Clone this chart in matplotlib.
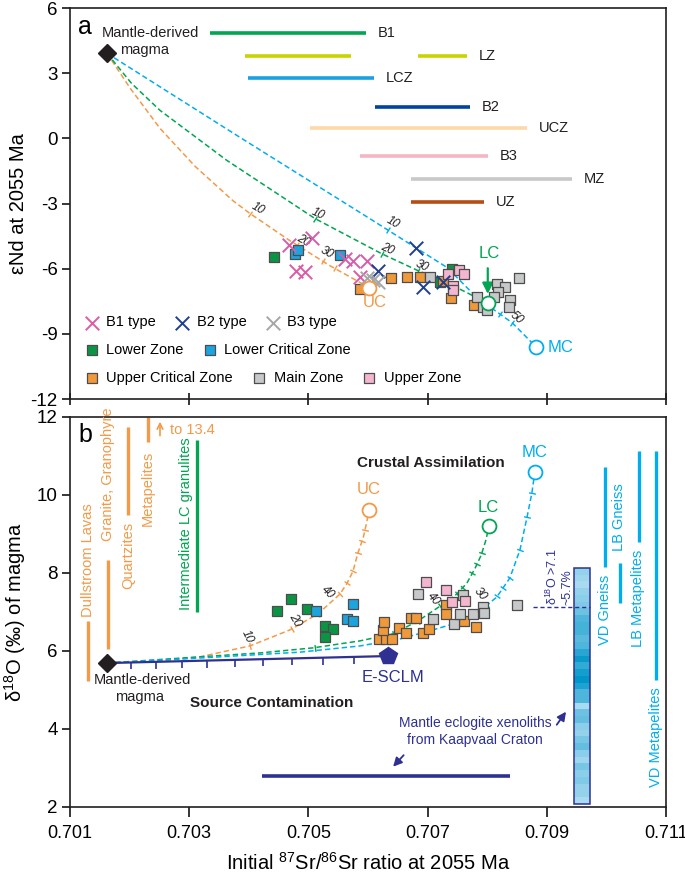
import matplotlib
matplotlib.use("Agg")
import matplotlib.pyplot as plt
import numpy as np
from matplotlib.patches import Rectangle
from matplotlib.legend import Legend
from matplotlib.colors import LinearSegmentedColormap

plt.rcParams["font.family"] = ["Liberation Sans", "DejaVu Sans"]
plt.rcParams["mathtext.fontset"] = "custom"
plt.rcParams["mathtext.rm"] = "Liberation Sans"
plt.rcParams["mathtext.default"] = "regular"
plt.rcParams["axes.unicode_minus"] = False

ORANGE = "#F39A48"
GREEN = "#00A651"
CYAN = "#00AEEF"
NAVY = "#2E3192"
INK = "#231F20"

# ---------------- panel a : eNd vs initial Sr ----------------
mantle_a = (0.70162, 3.92)

# published ranges (horizontal bars)
range_names = ["B1", "LZ", "LZ", "LCZ", "B2", "UCZ", "B3", "MZ", "UZ"]
range_lo = [0.70335, 0.70394, 0.70684, 0.70399, 0.70612, 0.70503, 0.70587, 0.70672, 0.70672]
range_hi = [0.70597, 0.70571, 0.70766, 0.70610, 0.70771, 0.70867, 0.70801, 0.70942, 0.70795]
range_nd = [4.85, 3.78, 3.78, 2.77, 1.43, 0.46, -0.83, -1.89, -2.91]
range_colors = ["#00A651", "#C8D400", "#C8D400", "#1BA1E2", "#00449E",
                "#FDD9A9", "#F4B6C4", "#C8C8C8", "#B84C13"]

# mixing curves, mantle -> crust end-members, with their % ticks
a_uc_sr = [0.70162, 0.70201, 0.70251, 0.70310, 0.70373, 0.70402, 0.70469, 0.70536, 0.70602]
a_uc_nd = [3.92, 2.31, 0.46, -1.29, -2.86, -3.46, -4.71, -5.86, -6.87]
a_uc_ticks = [0.70402, 0.70481, 0.70524, 0.70544]
a_lc_sr = [0.70162, 0.70203, 0.70251, 0.70363, 0.70511, 0.70623, 0.70684, 0.70726, 0.70783, 0.70801]
a_lc_nd = [3.92, 2.54, 1.29, -1.01, -3.69, -5.31, -6.09, -6.55, -7.34, -7.57]
a_lc_ticks = [0.70511, 0.70623, 0.70684]
a_mc_sr = [0.70162, 0.70385, 0.70608, 0.70733, 0.70783, 0.70842, 0.70882]
a_mc_nd = [3.92, 0.05, -3.78, -5.95, -7.34, -8.49, -9.60]
a_mc_ticks = [0.70634, 0.70822, 0.70842]

# samples
b1_sr = [0.70468, 0.70506, 0.70480, 0.70494, 0.70561, 0.70575, 0.70598, 0.70587]
b1_nd = [-4.90, -4.58, -6.09, -6.17, -5.55, -5.63, -5.63, -6.40]
b2_sr = [0.70617, 0.70681, 0.70693, 0.70726]
b2_nd = [-6.09, -5.03, -6.83, -6.60]
b3_sr = [0.70598, 0.70608, 0.70617]
b3_nd = [-6.41, -6.51, -6.60]
a_lz_sr = [0.70442, 0.70741, 0.70721]
a_lz_nd = [-5.44, -6.00, -6.60]
a_lcz_sr = [0.70478, 0.70483, 0.70553]
a_lcz_nd = [-5.31, -5.12, -5.35]
a_ucz_sr = [0.70587, 0.70639, 0.70665, 0.70687, 0.70739, 0.70778, 0.70726]
a_ucz_nd = [-6.92, -6.41, -6.37, -6.37, -7.34, -7.66, -6.55]
a_mz_sr = [0.70704, 0.70783, 0.70793, 0.70800, 0.70817, 0.70830, 0.70818, 0.70853, 0.70838, 0.70837, 0.70811]
a_mz_nd = [-6.37, -7.29, -7.75, -7.89, -6.69, -6.83, -7.06, -6.41, -7.43, -7.75, -7.29]
a_uz_sr = [0.70734, 0.70753, 0.70761, 0.70743, 0.70743]
a_uz_nd = [-6.23, -6.04, -6.23, -6.78, -6.97]

# ---------------- panel b : d18O vs initial Sr ----------------
mantle_b = (0.70162, 5.69)
escl_m = (0.70634, 5.87)
source_ticks_sr = [0.70202, 0.70244, 0.70288, 0.70330, 0.70377, 0.70424, 0.70473, 0.70524, 0.70577]

b_uc_sr = [0.70162, 0.70251, 0.70318, 0.70402, 0.70469, 0.70516, 0.70553, 0.70565,
           0.70575, 0.70583, 0.70592, 0.70598, 0.70602]
b_uc_o = [5.69, 5.74, 5.85, 6.13, 6.54, 6.95, 7.46, 7.74, 8.05, 8.51, 8.90, 9.31, 9.62]
b_uc_ticks = [0.70402, 0.70473, 0.70516, 0.70553, 0.70565, 0.70575, 0.70583, 0.70590, 0.70595]
b_lc_sr = [0.70162, 0.70318, 0.70419, 0.70508, 0.70587, 0.70642, 0.70684, 0.70721,
           0.70749, 0.70766, 0.70780, 0.70790, 0.70798, 0.70803]
b_lc_o = [5.69, 5.85, 5.95, 6.08, 6.26, 6.44, 6.77, 7.15, 7.46, 7.74, 8.13, 8.46, 8.85, 9.21]
b_lc_ticks = [0.70511, 0.70642, 0.70684, 0.70721, 0.70749, 0.70759, 0.70775, 0.70783, 0.70791]
b_mc_sr = [0.70162, 0.70318, 0.70486, 0.70587, 0.70654, 0.70709, 0.70749, 0.70783,
           0.70816, 0.70838, 0.70855, 0.70867, 0.70875, 0.70880]
b_mc_o = [5.69, 5.82, 5.97, 6.13, 6.31, 6.54, 6.72, 6.97, 7.38, 7.87, 8.59, 9.44, 10.05, 10.59]
b_mc_ticks = [0.70637, 0.70704, 0.70749, 0.70800, 0.70817, 0.70827, 0.70838, 0.70855, 0.70867, 0.70875]

b_lz_sr = [0.70447, 0.70471, 0.70498, 0.70528, 0.70541, 0.70528]
b_lz_o = [7.03, 7.33, 7.08, 6.64, 6.56, 6.36]
b_lcz_sr = [0.70513, 0.70575, 0.70565, 0.70575]
b_lcz_o = [7.03, 7.21, 6.82, 6.77]
b_ucz_sr = [0.70618, 0.70630, 0.70640, 0.70625, 0.70627, 0.70652, 0.70664, 0.70672,
            0.70680, 0.70692, 0.70702, 0.70731, 0.70731, 0.70761, 0.70781]
b_ucz_o = [6.31, 6.31, 6.31, 6.54, 6.74, 6.59, 6.46, 6.85, 6.85, 6.46, 6.56, 7.18, 6.95, 6.77, 6.62]
b_mz_sr = [0.70684, 0.70709, 0.70744, 0.70754, 0.70759, 0.70776, 0.70793, 0.70795, 0.70850]
b_mz_o = [7.46, 6.82, 6.69, 6.95, 7.44, 6.95, 7.13, 6.97, 7.18]
b_uz_sr = [0.70697, 0.70731, 0.70741, 0.70763]
b_uz_o = [7.77, 7.56, 7.26, 7.28]

# crustal d18O ranges (vertical bars)
crust_names = ["Dullstroom Lavas", "Granite, Granophyre", "Quartzites", "Metapelites"]
crust_sr = [0.70130, 0.70164, 0.70197, 0.70231]
crust_lo = [5.23, 6.05, 9.49, 11.36]
crust_hi = [6.77, 8.33, 11.74, 12.00]
crust_label_o = [8.33, 10.54, 8.44, 10.18]

# Bushveld country rocks (light blue bars)
country_names = ["VD Gneiss", "LB Gneiss", "LB Metapelites", "VD Metapelites"]
country_sr = [0.70998, 0.71023, 0.71055, 0.71083]
country_lo = [8.15, 7.23, 8.79, 5.26]
country_hi = [10.72, 8.26, 11.13, 11.13]
country_label_sr = [0.70998, 0.71021, 0.71053, 0.71083]
country_label_o = [7.05, 9.44, 7.36, 3.79]

# Kaapvaal eclogite d18O distribution, stripe shades from top to bottom
eclogite_shade = [0.25, 0.20, 0.15, 0.25, 0.30, 0.35, 0.45, 0.60, 0.65, 0.65, 0.55, 0.60,
                  0.80, 0.95, 0.75, 0.90, 1.00, 0.85, 0.60, 0.60, 0.15, 0.45, 0.50, 0.30,
                  0.25, 0.40, 0.50, 0.30, 0.20, 0.40, 0.30, 0.35, 0.25, 0.25, 0.15]
eclogite_o_range = (2.08, 8.13)
eclogite_sr_range = (0.70946, 0.70972)
eclogite_sr_line = (0.70422, 0.70838)
eclogite_line_o = 2.80

x_ticks = [0.701, 0.703, 0.705, 0.707, 0.709, 0.711]


def squares(ax, xs, ys, color, label):
    return ax.scatter(xs, ys, marker="s", s=52, facecolor=color, edgecolor="#4D4D4D",
                      linewidth=0.9, zorder=5, label=label)


def crosses(ax, xs, ys, color, label):
    return ax.scatter(xs, ys, marker="x", s=95, color=color, linewidth=1.4, zorder=6, label=label)


def mix_curve(ax, xs, ys, color, ticks):
    ax.plot(xs, ys, color=color, linestyle=(0, (3.5, 2)), linewidth=1.1, zorder=3)
    # short marks across the curve at each mixing step
    pts = ax.transData.transform(np.column_stack([xs, ys]))
    ty = np.interp(ticks, xs, ys)
    for x, y in zip(ticks, ty):
        i = int(np.clip(np.searchsorted(xs, x), 1, len(xs) - 1))
        d = pts[i] - pts[i - 1]
        ang = np.degrees(np.arctan2(d[1], d[0]))
        ax.plot([x], [y], marker=(2, 0, ang), markersize=5, color=color,
                markeredgewidth=1.0, zorder=3)


def end_member(ax, x, y, color):
    ax.plot([x], [y], marker="o", markersize=10, markerfacecolor="white", markeredgecolor=color,
            markeredgewidth=1.3, zorder=8, linestyle="none")


def style_axis(ax):
    for sp in ax.spines.values():
        sp.set_linewidth(1.2)
        sp.set_color(INK)
    ax.set_xlim(0.701, 0.711)
    ax.set_xticks(x_ticks)
    ax.tick_params(axis="y", direction="out", length=6, width=1.1, labelsize=13.5, pad=3)


def panel_a(ax):
    style_axis(ax)
    ax.set_ylim(-12, 6)
    ax.set_yticks([-12, -9, -6, -3, 0, 3, 6])
    ax.tick_params(axis="x", direction="inout", length=9, width=1.1, labelbottom=False)
    ax.set_ylabel("εNd at 2055 Ma", fontsize=14.5)
    ax.yaxis.set_label_coords(-0.07, 0.5)

    for i, name in enumerate(range_names):
        ax.plot([range_lo[i], range_hi[i]], [range_nd[i]] * 2, color=range_colors[i],
                linewidth=2.6, solid_capstyle="butt")
        if i + 1 == len(range_names) or range_names[i + 1] != name:
            ax.annotate(name, (range_hi[i], range_nd[i]), xytext=(8.5, 0), textcoords="offset points",
                        ha="left", va="center", fontsize=10.5, color=INK)

    mix_curve(ax, a_uc_sr, a_uc_nd, ORANGE, a_uc_ticks)
    mix_curve(ax, a_lc_sr, a_lc_nd, GREEN, a_lc_ticks)
    mix_curve(ax, a_mc_sr, a_mc_nd, CYAN, a_mc_ticks)
    for x, y, t, r in [(0.70415, -3.23, "10", -30), (0.70491, -4.71, "20", -30),
                       (0.70531, -5.26, "30", -30), (0.70516, -3.46, "10", -25),
                       (0.70632, -5.08, "20", -25), (0.70691, -5.86, "30", -25),
                       (0.70642, -3.88, "10", -30), (0.70850, -8.26, "50", -40)]:
        ax.text(x, y, t, fontsize=8.5, style="italic", rotation=r, ha="center", va="center", color=INK)

    h_b1 = crosses(ax, b1_sr, b1_nd, "#DA5CA6", "B1 type")
    h_b2 = crosses(ax, b2_sr, b2_nd, "#1F3F8F", "B2 type")
    h_b3 = crosses(ax, b3_sr, b3_nd, "#A6A6A6", "B3 type")
    h_lz = squares(ax, a_lz_sr, a_lz_nd, "#0B9444", "Lower Zone")
    h_lcz = squares(ax, a_lcz_sr, a_lcz_nd, "#1CA4DF", "Lower Critical Zone")
    h_ucz = squares(ax, a_ucz_sr, a_ucz_nd, "#F0993B", "Upper Critical Zone")
    h_mz = squares(ax, a_mz_sr, a_mz_nd, "#C7C8CA", "Main Zone")
    h_uz = squares(ax, a_uz_sr, a_uz_nd, "#F4B6CF", "Upper Zone")

    ax.plot([mantle_a[0]], [mantle_a[1]], marker="D", markersize=9, color=INK, zorder=9)
    ax.text(0.70154, 4.85, "Mantle-derived", fontsize=10.5, ha="left", va="center", color=INK)
    ax.text(0.70184, 4.06, "magma", fontsize=10.5, ha="left", va="center", color=INK)
    ax.text(0.70125, 5.15, "a", fontsize=18, ha="center", va="center", color="black")

    end_member(ax, 0.70602, -6.87, ORANGE)
    end_member(ax, 0.70801, -7.57, GREEN)
    end_member(ax, 0.70882, -9.60, CYAN)
    ax.text(0.70612, -7.57, "UC", fontsize=12, color=ORANGE, ha="center", va="center")
    ax.text(0.70803, -5.31, "LC", fontsize=12, color=GREEN, ha="center", va="center")
    ax.text(0.70902, -9.64, "MC", fontsize=12, color=CYAN, ha="left", va="center")
    ax.annotate("", xy=(0.70801, -7.29), xytext=(0.70801, -5.85),
                arrowprops=dict(arrowstyle="-|>", color=GREEN, lw=1.6, mutation_scale=16))

    rows = [([h_b1, h_b2, h_b3], 0.214), ([h_lz, h_lcz], 0.143), ([h_ucz, h_mz, h_uz], 0.072)]
    for handles, ytop in rows:
        leg = Legend(ax, handles, [h.get_label() for h in handles], loc="upper left",
                     bbox_to_anchor=(0.024, ytop), ncol=len(handles), frameon=False,
                     fontsize=10.5, handlelength=1.0, handletextpad=0.5, columnspacing=1.3,
                     borderpad=0, borderaxespad=0)
        ax.add_artist(leg)


def panel_b(ax):
    style_axis(ax)
    ax.set_ylim(2, 12)
    ax.set_yticks([2, 4, 6, 8, 10, 12])
    ax.set_xticklabels([f"{v:.3f}" for v in x_ticks])
    ax.tick_params(axis="x", direction="out", length=7, width=1.1, labelsize=13, pad=6)
    ax.set_ylabel("δ$^{18}$O (‰) of magma", fontsize=14.5)
    ax.yaxis.set_label_coords(-0.07, 0.5)
    ax.set_xlabel("Initial $^{87}$Sr/$^{86}$Sr ratio at 2055 Ma", fontsize=14.5)
    ax.xaxis.set_label_coords(0.5, -0.115)

    # crustal contaminant ranges on the left
    for i, name in enumerate(crust_names):
        ax.plot([crust_sr[i]] * 2, [crust_lo[i], crust_hi[i]], color=ORANGE, linewidth=2.4,
                solid_capstyle="butt")
        ax.text(crust_sr[i], crust_label_o[i], name, rotation=90, fontsize=10.5, color=ORANGE,
                ha="center", va="center")
    ax.annotate("", xy=(0.70251, 11.95), xytext=(0.70251, 11.45),
                arrowprops=dict(arrowstyle="->", color=ORANGE, lw=1.2, mutation_scale=10))
    ax.text(0.70268, 11.67, "to 13.4", fontsize=10.5, color=ORANGE, ha="left", va="center")
    ax.plot([0.70313] * 2, [7.0, 11.41], color=GREEN, linewidth=2.4, solid_capstyle="butt")
    ax.text(0.70295, 9.26, "Intermediate LC granulites", rotation=90, fontsize=10.5,
            color=GREEN, ha="center", va="center")

    # country rocks on the right
    for i, name in enumerate(country_names):
        ax.plot([country_sr[i]] * 2, [country_lo[i], country_hi[i]], color=CYAN, linewidth=2.4,
                solid_capstyle="butt")
        ax.text(country_label_sr[i], country_label_o[i], name, rotation=90, fontsize=10.5,
                color=CYAN, ha="center", va="center")

    # eclogite distribution column
    cmap = LinearSegmentedColormap.from_list("ecl", ["#C6E6F7", "#0096C8"])
    edges = np.linspace(eclogite_o_range[1], eclogite_o_range[0], len(eclogite_shade) + 1)
    width = eclogite_sr_range[1] - eclogite_sr_range[0]
    ax.bar([eclogite_sr_range[0]] * len(eclogite_shade), edges[:-1] - edges[1:], bottom=edges[1:],
           width=width, align="edge", color=cmap(eclogite_shade), linewidth=0, zorder=2)
    ax.add_patch(Rectangle((eclogite_sr_range[0], eclogite_o_range[0]), width,
                           eclogite_o_range[1] - eclogite_o_range[0], fill=False,
                           edgecolor=NAVY, linewidth=1.1, zorder=3))
    ax.plot([0.70877, eclogite_sr_range[1]], [7.13, 7.13], color=NAVY, linestyle=(0, (3, 2)),
            linewidth=1.0, zorder=4)
    ax.text(0.70910, 7.17, "δ$^{18}$O >7.1", rotation=90, fontsize=9, color=NAVY,
            ha="center", va="bottom")
    ax.text(0.70934, 7.17, "~5.7%", rotation=90, fontsize=9, color=NAVY, ha="center", va="bottom")
    ax.plot(list(eclogite_sr_line), [eclogite_line_o] * 2, color=NAVY, linewidth=2.6,
            solid_capstyle="butt")
    ax.text(0.70780, 4.15, "Mantle eclogite xenoliths", fontsize=10, color=NAVY, ha="center", va="center")
    ax.text(0.70780, 3.72, "from Kaapvaal Craton", fontsize=10, color=NAVY, ha="center", va="center")
    ax.annotate("", xy=(0.70639, 2.98), xytext=(0.70663, 3.38),
                arrowprops=dict(arrowstyle="-|>", color=NAVY, lw=1.3, mutation_scale=13))
    ax.annotate("", xy=(0.70935, 4.50), xytext=(0.70914, 4.05),
                arrowprops=dict(arrowstyle="-|>", color=NAVY, lw=1.3, mutation_scale=13))

    # source contamination line
    ax.plot([mantle_b[0], escl_m[0]], [mantle_b[1], escl_m[1]], color=NAVY, linewidth=1.6, zorder=4)
    tick_o = np.interp(source_ticks_sr, [mantle_b[0], escl_m[0]], [mantle_b[1], escl_m[1]])
    ax.plot(source_ticks_sr, tick_o, linestyle="none", marker=3, markersize=5, color=NAVY,
            markeredgewidth=1.2, zorder=4)
    ax.plot([escl_m[0]], [escl_m[1]], marker="p", markersize=13, color=NAVY, zorder=9)
    ax.text(0.70642, 5.33, "E-SCLM", fontsize=12, color=NAVY, ha="center", va="center")

    mix_curve(ax, b_uc_sr, b_uc_o, ORANGE, b_uc_ticks)
    mix_curve(ax, b_lc_sr, b_lc_o, GREEN, b_lc_ticks)
    mix_curve(ax, b_mc_sr, b_mc_o, CYAN, b_mc_ticks)
    for x, y, t, r in [(0.70397, 6.38, "10", -65), (0.70478, 6.79, "20", -60),
                       (0.70533, 7.49, "40", -45), (0.70709, 7.33, "40", -50),
                       (0.70788, 7.46, "30", -50)]:
        ax.text(x, y, t, fontsize=8.5, style="italic", rotation=r, ha="center", va="center", color=INK)

    squares(ax, b_lz_sr, b_lz_o, "#0B9444", None)
    squares(ax, b_lcz_sr, b_lcz_o, "#1CA4DF", None)
    squares(ax, b_ucz_sr, b_ucz_o, "#F0993B", None)
    squares(ax, b_mz_sr, b_mz_o, "#C7C8CA", None)
    squares(ax, b_uz_sr, b_uz_o, "#F4B6CF", None)

    ax.plot([mantle_b[0]], [mantle_b[1]], marker="D", markersize=9, color=INK, zorder=9)
    ax.text(0.70222, 5.26, "Mantle-derived", fontsize=10.5, ha="center", va="center", color=INK)
    ax.text(0.70217, 4.82, "magma", fontsize=10.5, ha="center", va="center", color=INK)
    ax.text(0.70301, 4.67, "Source Contamination", fontsize=11, weight="bold", ha="left",
            va="center", color=INK)
    ax.text(0.70582, 10.82, "Crustal Assimilation", fontsize=11, weight="bold", ha="left",
            va="center", color=INK)
    ax.text(0.70125, 11.54, "b", fontsize=18, ha="center", va="center", color="black")

    end_member(ax, 0.70602, 9.62, ORANGE)
    end_member(ax, 0.70803, 9.21, GREEN)
    end_member(ax, 0.70880, 10.59, CYAN)
    ax.text(0.70602, 10.13, "UC", fontsize=12, color=ORANGE, ha="center", va="center")
    ax.text(0.70801, 9.69, "LC", fontsize=12, color=GREEN, ha="center", va="center")
    ax.text(0.70880, 11.10, "MC", fontsize=12, color=CYAN, ha="center", va="center")


def main():
    fig = plt.figure(figsize=(6.85, 8.76), dpi=100)
    ax_a = fig.add_axes([0.1022, 0.5445, 0.870, 0.4463])
    ax_b = fig.add_axes([0.1022, 0.0788, 0.870, 0.4452])
    panel_a(ax_a)
    panel_b(ax_b)
    fig.savefig("out.png", dpi=100)


if __name__ == "__main__":
    main()
